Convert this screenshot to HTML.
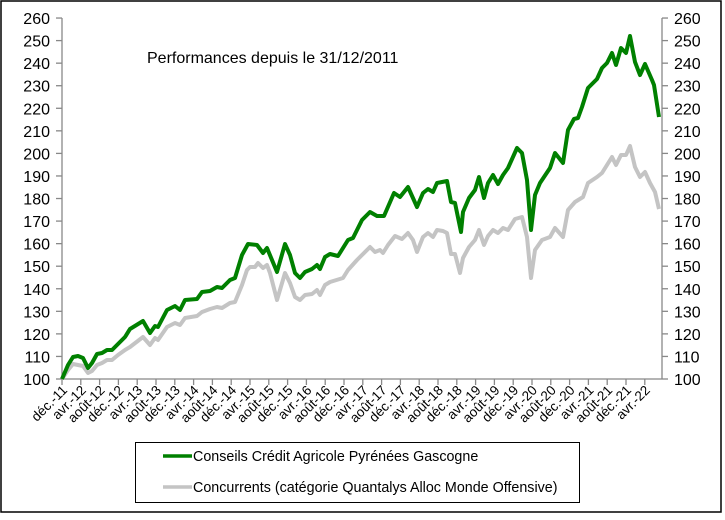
<!DOCTYPE html>
<html><head><meta charset="utf-8"><style>
body{margin:0;background:#fff}
svg{display:block;font-family:"Liberation Sans",Arial,sans-serif}
</style></head><body>
<svg width="725" height="520" viewBox="0 0 725 520" xmlns="http://www.w3.org/2000/svg">
<rect x="1" y="1" width="720" height="511" fill="#fff" stroke="#000" stroke-width="1.5"/>
<g stroke="#888" stroke-width="1.3" fill="none">
<line x1="62" y1="18" x2="62" y2="379"/>
<line x1="662" y1="18" x2="662" y2="379"/>
<line x1="62" y1="379" x2="662" y2="379"/>
</g>
<g id="yt" font-size="16" fill="#000"></g>
<g id="xt" font-size="13.5" fill="#000"></g>
<text x="147" y="63" font-size="16">Performances depuis le 31/12/2011</text>
<polyline fill="none" stroke="#c4c4c4" stroke-width="4" stroke-linejoin="round" points="62,379 68,370 73,364 78,365 83,366 88,373 92,371 97,365 102,363 107,360 112,360 118,355 125,350 130,347 143,337 150,345 155,338 158,340 167,327 175,323 180,325 185,318 197,316 202,312 210,309 217,307 222,308 230,303 235,302 242,285 247,270 250,267 255,267 258,263 263,268 267,265 270,273 277,300 285,273 290,283 295,297 300,300 305,295 312,294 317,290 320,295 325,285 330,282 343,278 348,270 357,260 362,255 370,247 375,252 380,250 383,253 388,245 395,236 402,239 408,233 413,240 417,252 423,237 428,233 433,237 437,230 443,231 447,233 451,254 455,254 460,273 463,258 469,247 475,240 479,230 484,245 488,236 493,230 498,233 503,228 508,230 515,219 522,217 527,237 531,278 535,250 542,240 550,237 555,228 563,237 568,210 575,202 583,197 588,183 597,177 602,173 612,157 616,165 621,155 626,155 630,146 635,167 640,177 645,172 650,183 655,192 659,209"/>
<polyline fill="none" stroke="#008000" stroke-width="4" stroke-linejoin="round" points="62,379 68,365 73,357 78,356 83,358 88,368 92,363 97,354 102,353 107,350 112,350 118,344 125,337 130,329 143,321 150,333 155,326 158,327 167,310 175,306 180,310 185,300 197,299 202,292 210,291 217,287 222,288 230,280 235,278 242,255 248,244 257,245 263,253 267,248 277,272 285,244 290,255 295,273 300,278 305,272 312,269 317,265 320,269 325,257 330,254 338,256 348,240 353,238 362,220 370,212 377,216 384,216 394,193 400,197 408,187 417,207 423,193 428,189 433,192 437,183 447,181 451,202 455,203 461,232 463,212 469,198 475,190 479,177 484,198 488,183 493,175 498,184 503,175 508,168 517,148 522,153 527,180 531,230 535,195 540,183 550,168 555,153 563,163 568,130 574,119 578,118 582,107 588,88 597,79 602,68 607,63 612,53 616,65 621,48 626,53 630,36 635,62 640,75 645,64 652,80 654,85 659,117"/>
<rect x="135.5" y="442.5" width="444" height="60" fill="#fff" stroke="#000" stroke-width="1"/>
<line x1="163" y1="456" x2="192" y2="456" stroke="#008000" stroke-width="3.5"/>
<line x1="163" y1="487" x2="192" y2="487" stroke="#c4c4c4" stroke-width="3.5"/>
<text x="193" y="461" font-size="14.3">Conseils Crédit Agricole Pyrénées Gascogne</text>
<text x="193" y="492" font-size="14.3">Concurrents (catégorie Quantalys Alloc Monde Offensive)</text>
<script>
var ns="http://www.w3.org/2000/svg",yt=document.getElementById("yt"),xt=document.getElementById("xt");
function el(t,a,p,tx){var e=document.createElementNS(ns,t);for(var k in a)e.setAttribute(k,a[k]);if(tx)e.textContent=tx;p.appendChild(e);return e;}
for(var v=100;v<=260;v+=10){var y=379-(v-100)*2.256;
el("line",{x1:56,y1:y,x2:62,y2:y,stroke:"#888","stroke-width":1.3},yt);
el("line",{x1:662,y1:y,x2:668,y2:y,stroke:"#888","stroke-width":1.3},yt);
el("text",{x:50,y:y+6,"text-anchor":"end"},yt,""+v);
el("text",{x:674,y:y+6},yt,""+v);}
for(var i=0;i<32;i++){var x=62+i*18.8;
el("line",{x1:x,y1:379,x2:x,y2:385,stroke:"#888","stroke-width":1.3},xt);
var lab=["déc.-","avr.-","août-"][i%3]+(11+Math.floor((i+2)/3));
el("text",{x:x+6,y:391,"text-anchor":"end",transform:"rotate(-45 "+(x+6)+" 391)"},xt,lab);}
</script>
</svg>
</body></html>
